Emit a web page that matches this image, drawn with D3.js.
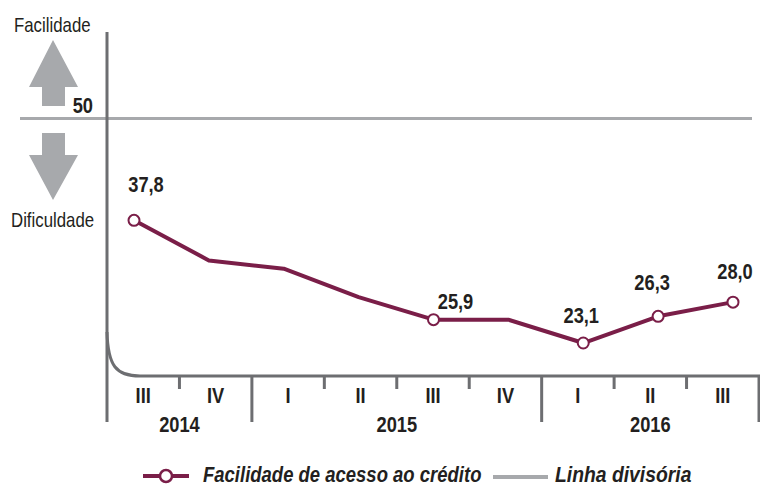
<!DOCTYPE html>
<html>
<head>
<meta charset="utf-8">
<script src="https://cdn.jsdelivr.net/npm/d3@7"></script>
<style>
  body { margin: 0; background: #fff; }
  svg { display: block; font-family: "Liberation Sans", Arial, sans-serif; }
</style>
</head>
<body>
<svg id="plot"></svg>
<script>
// quarters and years
const quarters = ["III", "IV", "I", "II", "III", "IV", "I", "II", "III"];
const years = ["2014", "2014", "2015", "2015", "2015", "2015", "2016", "2016", "2016"];
// Facilidade de acesso ao crédito
const values = [37.8, 33.0, 32.0, 28.6, 25.9, 25.9, 23.1, 26.3, 28.0];
const labelled = [true, false, false, false, true, false, true, true, true];
// label offsets from the point (dx, dy)
const labelOffsets = [[12, -28], [0, 0], [0, 0], [0, 0], [22, -11], [0, 0], [-2, -20], [-6, -26], [2, -23]];
const divisor = 50;

const width = 760, height = 486;
const maroon = "#7a1e48", axisGray = "#6d6e71", lightGray = "#a7a9ac", ink = "#231f20";

const svg = d3.select("#plot")
  .attr("width", width)
  .attr("height", height);

// narrow text: regular font squeezed horizontally
function label(parent, px, py, str, size, opts) {
  opts = opts || {};
  return parent.append("text")
    .attr("transform", `translate(${px},${py}) scale(${opts.sx || 0.85},1)`)
    .style("font-size", size + "px")
    .style("font-weight", opts.bold ? "bold" : "normal")
    .style("font-style", opts.italic ? "italic" : "normal")
    .style("text-anchor", opts.anchor || "start")
    .attr("fill", ink)
    .text(str);
}

const ids = quarters.map((q, i) => i);

const xBand = d3.scaleBand().domain(ids).range([107, 759]);
const x = d3.scalePoint().domain(ids).range([134, 733]);
const y = d3.scaleLinear().domain([20, 50]).range([368.9, 118.5]);

// arrows
svg.append("path")
  .attr("d", "M53,40 L78,87 L65,87 L65,106 L42,106 L42,87 L29,87 Z")
  .attr("fill", lightGray);
svg.append("path")
  .attr("d", "M42,133 L65,133 L65,155 L78,155 L53,200 L29,155 L42,155 Z")
  .attr("fill", lightGray);

label(svg, 14, 32, "Facilidade", 20.5, { sx: 0.82 });
label(svg, 11, 227, "Dificuldade", 20.5, { sx: 0.82 });

// linha divisória
svg.append("line")
  .attr("x1", 20).attr("x2", 752)
  .attr("y1", y(divisor)).attr("y2", y(divisor))
  .attr("stroke", lightGray).attr("stroke-width", 3);

label(svg, 93, 113, divisor, 21.5, { bold: true, anchor: "end" });

// axes
const axisY = 376;
svg.append("line")
  .attr("x1", 107).attr("x2", 107).attr("y1", 32).attr("y2", 422)
  .attr("stroke", axisGray).attr("stroke-width", 3);
svg.append("path")
  .attr("d", `M107,332 C108,366 116,${axisY} 140,${axisY} L760,${axisY}`)
  .attr("fill", "none")
  .attr("stroke", axisGray).attr("stroke-width", 3);

// ticks
ids.forEach(i => {
  if (i === 0) return;
  const major = years[i] !== years[i - 1];
  svg.append("line")
    .attr("x1", xBand(i)).attr("x2", xBand(i))
    .attr("y1", axisY).attr("y2", major ? 422 : 389)
    .attr("stroke", axisGray).attr("stroke-width", 3);
});
svg.append("line")
  .attr("x1", xBand.range()[1]).attr("x2", xBand.range()[1])
  .attr("y1", axisY).attr("y2", 422)
  .attr("stroke", axisGray).attr("stroke-width", 3);

const qAxis = svg.append("g");
ids.forEach(i => {
  label(qAxis, xBand(i) + xBand.bandwidth() / 2, 403, quarters[i], 21.5, { bold: true, anchor: "middle" });
});

const yAxis = svg.append("g");
d3.groups(ids, i => years[i]).forEach(([yr, qs]) => {
  const cx = (xBand(qs[0]) + xBand(qs[qs.length - 1]) + xBand.bandwidth()) / 2;
  label(yAxis, cx, 432, yr, 21.5, { bold: true, anchor: "middle" });
});

// series line
const line = d3.line()
  .x((d, i) => x(i))
  .y(d => y(d));

svg.append("path")
  .datum(values)
  .attr("d", line)
  .attr("fill", "none")
  .attr("stroke", maroon)
  .attr("stroke-width", 4)
  .attr("stroke-linejoin", "round");

const marked = ids.filter(i => labelled[i]);

svg.append("g")
  .selectAll("circle")
  .data(marked)
  .enter().append("circle")
    .attr("cx", i => x(i))
    .attr("cy", i => y(values[i]))
    .attr("r", 5.5)
    .attr("fill", "#fff")
    .attr("stroke", maroon)
    .attr("stroke-width", 2);

const valueLabels = svg.append("g");
marked.forEach(i => {
  label(valueLabels, x(i) + labelOffsets[i][0], y(values[i]) + labelOffsets[i][1],
    values[i].toFixed(1).replace(".", ","), 21.5, { bold: true, anchor: "middle" });
});

// legend
const legend = svg.append("g");
legend.append("line")
  .attr("x1", 143).attr("x2", 189).attr("y1", 476).attr("y2", 476)
  .attr("stroke", maroon).attr("stroke-width", 4);
legend.append("circle")
  .attr("cx", 166).attr("cy", 476).attr("r", 6)
  .attr("fill", "#fff").attr("stroke", maroon).attr("stroke-width", 2.5);
label(legend, 203, 482, "Facilidade de acesso ao crédito", 21.5, { bold: true, italic: true, sx: 0.86 });
legend.append("line")
  .attr("x1", 493).attr("x2", 548).attr("y1", 477).attr("y2", 477)
  .attr("stroke", lightGray).attr("stroke-width", 4);
label(legend, 555, 482, "Linha divisória", 21.5, { bold: true, italic: true, sx: 0.9 });
</script>
</body>
</html>
